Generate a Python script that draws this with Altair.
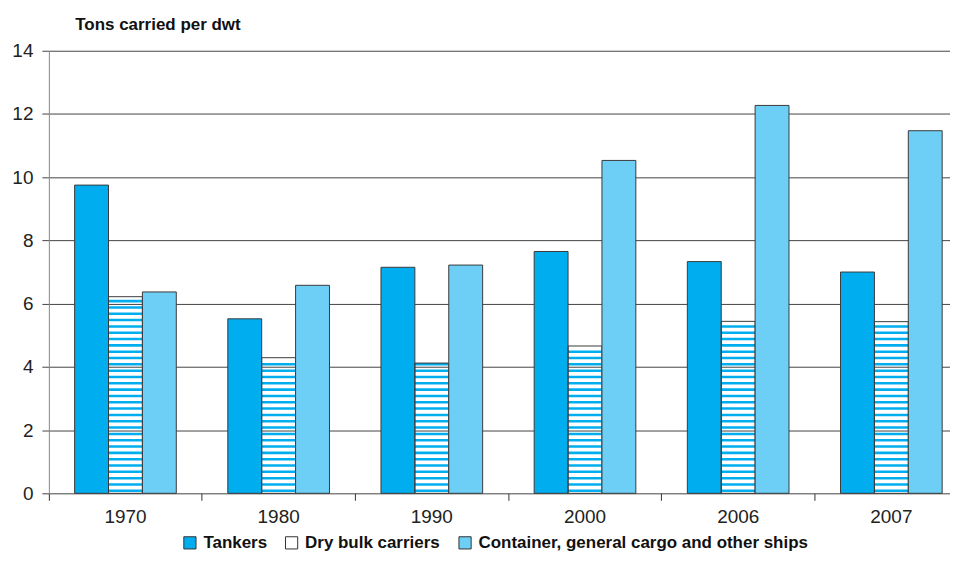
import altair as alt
import pandas as pd

years = ["1970", "1980", "1990", "2000", "2006", "2007"]
series = ["Tankers", "Dry bulk carriers", "Container, general cargo and other ships"]
tankers = [9.75, 5.52, 7.15, 7.65, 7.33, 7.00]
dry_bulk = [6.22, 4.29, 4.12, 4.66, 5.44, 5.43]
container = [6.37, 6.58, 7.22, 10.53, 12.27, 11.47]
colors = ["#00AEEF", "transparent", "#6DCFF6"]
y_ticks = [0, 2, 4, 6, 8, 10, 12, 14]

rows = []
for i, yr in enumerate(years):
    for s, vals in zip(series, [tankers, dry_bulk, container]):
        rows.append({"year": yr, "series": s, "value": vals[i]})
df = pd.DataFrame(rows)

# horizontal stripe pattern for the dry bulk bars
stripe_rows = []
for yr, v in zip(years, dry_bulk):
    k = 0
    while 0.2 * k + 0.12 <= v:
        stripe_rows.append({"year": yr, "series": series[1],
                            "y0": 0.2 * k + 0.04, "y1": 0.2 * k + 0.12})
        k += 1
sdf = pd.DataFrame(stripe_rows)

FONT = "Liberation Sans, Arial, Helvetica"

x_scale = alt.Scale(range=[0, 922], paddingInner=0, paddingOuter=0)
off_scale = alt.Scale(domain=series, paddingInner=0, paddingOuter=0.76)

x_enc = alt.X("year:N", sort=years, scale=x_scale,
              axis=alt.Axis(title=None, domain=False, grid=False, bandPosition=0,
                            labelAngle=0, tickSize=7,
                            tickColor="#333", labelFont=FONT, labelFontSize=19,
                            labelColor="#222", labelPadding=7))

stripes = alt.Chart(sdf).mark_bar(fill="#00AEEF", strokeWidth=0).encode(
    x=x_enc,
    xOffset=alt.XOffset("series:N", scale=off_scale),
    y=alt.Y("y0:Q"),
    y2="y1:Q",
)

bars = alt.Chart(df).mark_bar(stroke="#3a3a3a", strokeWidth=1).encode(
    x=x_enc,
    xOffset=alt.XOffset("series:N", scale=off_scale),
    y=alt.Y("value:Q", scale=alt.Scale(domain=[0, 14], nice=False),
            axis=alt.Axis(values=y_ticks, title="Tons carried per dwt",
                          titleAngle=0, titleAlign="left", titleBaseline="alphabetic",
                          titleX=26, titleY=-21, titleFont=FONT, titleFontSize=17,
                          titleFontWeight="bold", titleColor="#111",
                          labelFont=FONT, labelFontSize=19, labelColor="#222",
                          labelPadding=9, tickSize=7, tickColor="#444",
                          domainColor="#888", gridColor="#444", gridWidth=1)),
    fill=alt.Fill("series:N", scale=alt.Scale(domain=series, range=colors),
                  legend=alt.Legend(
                      orient="none", legendX=133, legendY=485,
                      direction="horizontal", title=None,
                      symbolType="square", symbolSize=150,
                      symbolStrokeColor="#333", symbolStrokeWidth=1,
                      labelFont=FONT, labelFontSize=17, labelFontWeight="bold",
                      labelColor="#111", columnPadding=16, labelOffset=5,
                      labelLimit=500)),
)

chart = alt.layer(stripes, bars).properties(
    width=904, height=444,
    padding={"left": 41, "top": 42, "right": 0, "bottom": 62},
    autosize=alt.AutoSizeParams(type="none"),
).configure_view(stroke=None).configure_axis(domainWidth=1)

chart.save("out.html", embed_options={"renderer": "svg", "actions": False})
